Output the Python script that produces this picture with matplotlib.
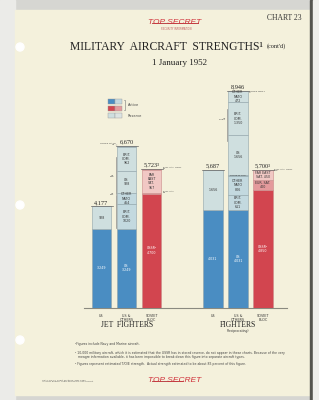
import matplotlib
matplotlib.use("Agg")
import matplotlib.pyplot as plt
from matplotlib.patches import Rectangle, Circle

# ---------------- data ----------------
groups = ["JET FIGHTERS", "FIGHTERS"]
categories = ["US", "US &\nOTHERS", "SOVIET\nBLOC"]

jet_us = [3249, 928]
jet_us_labels = ["3,249", "928"]
jet_oth = [3249, 1020, 464, 928, 962, 47]
jet_oth_labels = ["US\n3,249", "BRIT.\nCOM.\n1020", "OTHER\nNATO\n464", "US\n928", "BRIT.\nCOM.\n962", ""]
jet_sov = [4700, 40, 957, 26]
jet_sov_labels = ["USSR²\n4,700", "", "FAR\nEAST\nSAT.\n957", ""]

fig_us = [4031, 1656]
fig_us_labels = ["4,031", "1,656"]
fig_oth = [4031, 611, 806, 20, 1656, 1350, 472]
fig_oth_labels = ["US\n4,031", "BRIT.\nCOM.\n611", "OTHER\nNATO\n806", "", "US\n1,656", "BRIT.\nCOM.\n1,350", "OTHER\nNATO\n472"]
fig_sov = [4850, 400, 450]
fig_sov_labels = ["USSR²\n4,850", "EUR. SAT.\n400", "FAR EAST\nSAT. 450"]

totals = ["4,177", "6,670", "5,723³", "5,687", "8,946", "5,700³"]

# segment kinds: a = US active, b = allied active, r = reserve, s = soviet, p = satellite, q = light satellite
jet_us_kind = ["a", "r"]
jet_oth_kind = ["a", "b", "b", "r", "r", "r"]
jet_sov_kind = ["s", "p", "q", "q"]
fig_us_kind = ["a", "r"]
fig_oth_kind = ["a", "b", "b", "b", "r", "r", "r"]
fig_sov_kind = ["s", "p", "q"]

colors = {"a": "#4a8dc2", "b": "#c3d9df", "r": "#cfdfdf",
          "s": "#d2454f", "p": "#e49a9c", "q": "#f1c8c4"}
text_col = {"a": "white", "b": "#333", "r": "#333", "s": "white", "p": "#333", "q": "#333"}

bars = [(jet_us, jet_us_labels, jet_us_kind), (jet_oth, jet_oth_labels, jet_oth_kind),
        (jet_sov, jet_sov_labels, jet_sov_kind), (fig_us, fig_us_labels, fig_us_kind),
        (fig_oth, fig_oth_labels, fig_oth_kind), (fig_sov, fig_sov_labels, fig_sov_kind)]
xpos = [0, 1, 2, 4.46, 5.46, 6.46]

W, H = 319, 400
fig = plt.figure(figsize=(W / 100, H / 100), dpi=100)
fig.patch.set_facecolor("#d6d6d2")

# page / decoration axes in pixel coordinates
bg = fig.add_axes([0, 0, 1, 1])
bg.set_xlim(0, W)
bg.set_ylim(H, 0)
bg.axis("off")
bg.add_patch(Rectangle((0, 0), 15, H, color="#ebebe8", zorder=0))
bg.add_patch(Rectangle((15, 10), 295, 385, color="#f4f1dc", zorder=1))
bg.add_patch(Rectangle((310, 0), 3, H, color="#555550", zorder=1))
bg.add_patch(Rectangle((313, 0), 6, H, color="#efefec", zorder=1))
for yy in (47, 205, 340):
    bg.add_patch(Circle((20, yy), 4, color="white", zorder=2))

serif = "Liberation Serif"
bg.text(302, 18, "CHART 23", ha="right", va="center", fontsize=5.5, family=serif, color="#333")
bg.text(175, 23, "TOP SECRET", ha="center", va="center", fontsize=6, color="#d0313a",
        style="italic", family="Liberation Sans")
bg.plot([152, 198], [23, 23], color="#b02a30", lw=0.6)
bg.text(176, 29, "SECURITY INFORMATION", ha="center", va="center", fontsize=1.8, color="#c05a5a")
bg.text(166, 47, "MILITARY  AIRCRAFT  STRENGTHS¹", ha="center", va="center",
        fontsize=8.4, family=serif, color="#222")
bg.text(267, 46, "(cont'd)", ha="left", va="center", fontsize=4.5, family=serif, color="#222")
bg.text(180, 63, "1 January 1952", ha="center", va="center", fontsize=6.5, family=serif, color="#222")

# legend
leg_rows = [("a", "b"), ("s", "p"), ("r", "r")]
for i, (k1, k2) in enumerate(leg_rows):
    y0 = 99 + i * 7
    bg.add_patch(Rectangle((108, y0), 7, 5, facecolor=colors[k1], edgecolor="#999", lw=0.3, zorder=3))
    bg.add_patch(Rectangle((115, y0), 7, 5, facecolor=colors[k2] if i < 2 else "#dde4e2",
                           edgecolor="#999", lw=0.3, zorder=3))
bg.plot([124, 125, 125, 124], [100, 100, 110, 110], color="#777", lw=0.4)
bg.text(128, 105, "Active", fontsize=2.5, va="center", color="#444")
bg.text(128, 116, "Reserve", fontsize=2.5, va="center", color="#444")

# baseline
bg.plot([84, 287], [307.5, 307.5], color="#8a8a80", lw=0.8, zorder=2)

# group labels
bg.text(127, 325, "JET  FIGHTERS", ha="center", va="center", fontsize=5.5, family=serif, color="#222")
bg.text(238, 325, "FIGHTERS", ha="center", va="center", fontsize=5.5, family=serif, color="#222")
bg.text(238, 331, "(Reciprocating)", ha="center", va="center", fontsize=2.2, color="#333")

# footnotes
fn = 2.25
bg.text(75, 344, "¹Figures include Navy and Marine aircraft.", fontsize=fn, color="#444", va="center")
bg.text(75, 353, "² 10,000 military aircraft, which it is estimated that the USSR has in stored reserve, do not appear in these charts. Because of the very",
        fontsize=fn, color="#444", va="center")
bg.text(78, 357, "meagre information available, it has been impossible to break down this figure into separate aircraft types.",
        fontsize=fn, color="#444", va="center")
bg.text(75, 364, "³ Figures represent estimated T/O/E strength.  Actual strength estimated to be about 85 percent of this figure.",
        fontsize=fn, color="#444", va="center")
bg.text(175, 381, "TOP SECRET", ha="center", va="center", fontsize=6, color="#d0313a",
        style="italic", family="Liberation Sans")
bg.plot([152, 183], [381, 381], color="#b02a30", lw=0.6)
bg.text(42, 381, "USAF-HQ-SC Chart Sections, May 1952\nAF-VOLT Branch, chart approval 1,000 aircraft",
        fontsize=1.6, color="#555", va="center", linespacing=1.2)

# ---------------- bars ----------------
ax = fig.add_axes([76.5 / W, (H - 307.5) / H, 212.5 / W, 242 / H])
ax.set_xlim(-1, 7.5)
ax.set_ylim(0, 10000)
ax.axis("off")
ax.patch.set_alpha(0)

bw = 0.78
for x, (vals, labs, kinds), tot in zip(xpos, bars, totals):
    bottom = 0
    for v, lab, k in zip(vals, labs, kinds):
        ax.bar(x, v, bottom=bottom, width=bw, color=colors[k], edgecolor="#8fa3aa" if k in "abr" else "#c98a8a",
               linewidth=0.4)
        if lab:
            ax.text(x, bottom + v / 2, lab, ha="center", va="center", fontsize=2.3,
                    color=text_col[k], linespacing=1.1)
        bottom += v
    ax.plot([x - bw / 2 - 0.05, x + bw / 2 + 0.05], [bottom, bottom], color="#666", lw=0.5)
    ax.text(x, bottom + 60, tot, ha="center", va="bottom", fontsize=4.5, family=serif, color="#222")

for gx in (0, 4.46):
    for i, c in enumerate(categories):
        ax.text(gx + i, -250, c, ha="center", va="top", fontsize=2.4, color="#333", linespacing=1.1)

# outside annotations
ann = 1.7
ax.text(0.55, 6750, "OTHER NATO\n47", ha="right", va="center", fontsize=ann, color="#444")
ax.plot([0.57, 0.61], [6700, 6700], color="#777", lw=0.3)
ax.text(0.5, 5450, "US\n888", ha="right", va="center", fontsize=ann, color="#444")
ax.plot([0.56, 0.56], [4700, 6200], color="#888", lw=0.5)
ax.text(0.5, 4700, "US\n381", ha="right", va="center", fontsize=ann, color="#444")
ax.plot([0.56, 0.56], [3300, 4650], color="#888", lw=0.5)
ax.text(2.45, 5760, "EUR. SAT. ONLY\n26", ha="left", va="center", fontsize=ann, color="#444")
ax.text(2.45, 4780, "EUR. SAT.\n40", ha="left", va="center", fontsize=ann, color="#444")
ax.text(5.9, 8900, "OTHER WEST\n4", ha="left", va="center", fontsize=ann, color="#444")
ax.text(4.98, 7800, "US\n1,063", ha="right", va="center", fontsize=ann, color="#444")
ax.plot([5.02, 5.02], [6900, 8200], color="#888", lw=0.5)
ax.text(5.46, 5458, "OTHER W. EUR.", ha="center", va="center", fontsize=1.5, color="#333")
ax.text(6.9, 5700, "EUR. SAT. ONLY\n146", ha="left", va="center", fontsize=ann, color="#444")

fig.savefig("out.png", dpi=100, facecolor=fig.get_facecolor())
